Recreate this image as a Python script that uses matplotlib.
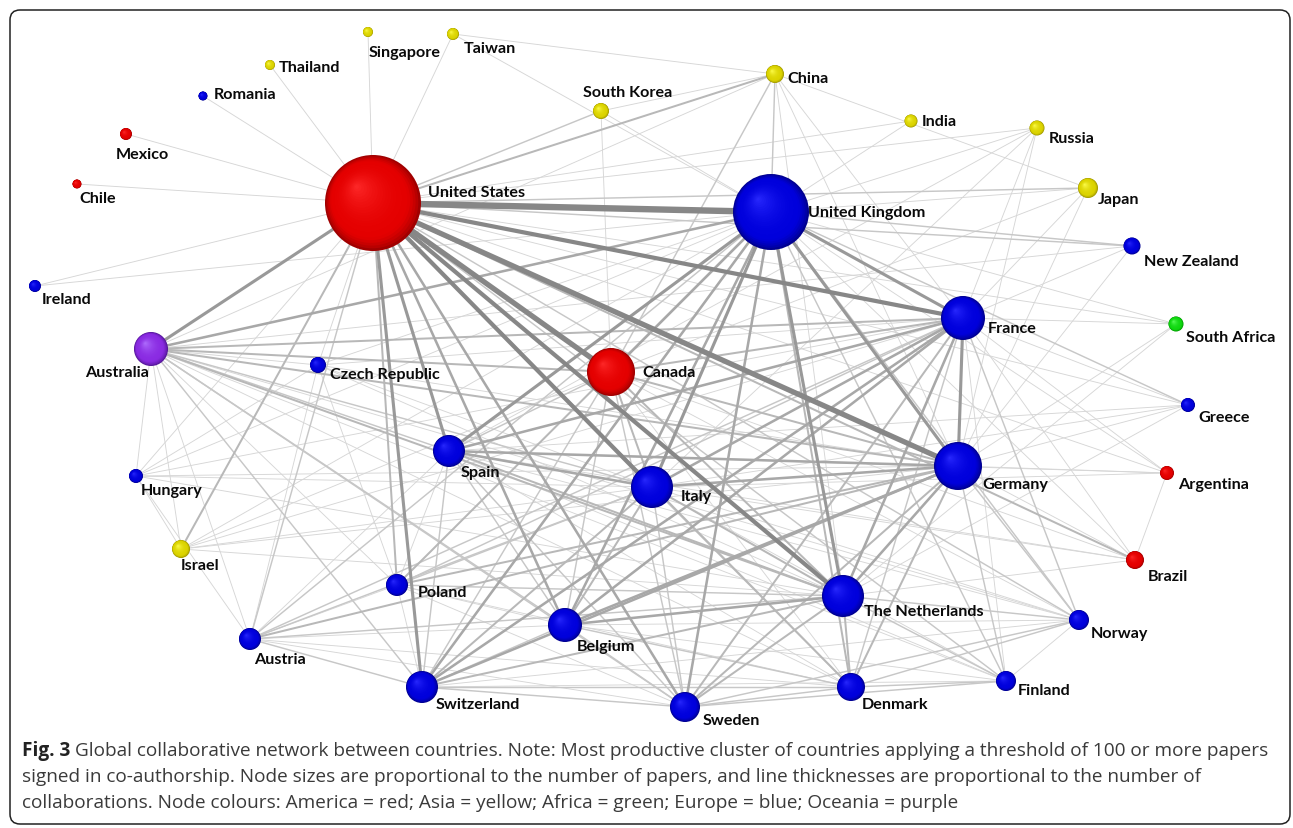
import matplotlib
matplotlib.use("Agg")
import matplotlib.pyplot as plt
from matplotlib.patches import Circle, FancyBboxPatch
from matplotlib.collections import LineCollection
import numpy as np

# ---------------- data ----------------
countries = ["United States", "United Kingdom", "Canada", "France", "Germany", "Italy",
             "The Netherlands", "Spain", "Belgium", "Switzerland", "Sweden", "Denmark",
             "Poland", "Austria", "Finland", "Norway", "Brazil", "Argentina", "Greece",
             "South Africa", "New Zealand", "Japan", "Russia", "India", "China",
             "South Korea", "Taiwan", "Singapore", "Thailand", "Romania", "Mexico",
             "Chile", "Ireland", "Australia", "Czech Republic", "Hungary", "Israel"]

continent = ["America", "Europe", "America", "Europe", "Europe", "Europe",
             "Europe", "Europe", "Europe", "Europe", "Europe", "Europe",
             "Europe", "Europe", "Europe", "Europe", "America", "America", "Europe",
             "Africa", "Europe", "Asia", "Asia", "Asia", "Asia",
             "Asia", "Asia", "Asia", "Asia", "Europe", "America",
             "America", "Europe", "Oceania", "Europe", "Europe", "Asia"]

# relative node size (proportional to number of papers)
node_size = [48, 38, 24, 22, 24, 21, 21, 16, 17, 16, 15, 14,
             11, 11, 10, 10, 9, 7, 7, 7.5, 8.5, 10, 7.5, 6.5, 9,
             8, 6, 5, 5, 4.5, 6, 4.5, 6, 17, 8, 7, 9]

# collaborations (country A, country B, strength)
edges = [
    ("United States", "United Kingdom", 6), ("United States", "Canada", 5),
    ("United States", "France", 4), ("United States", "Germany", 5),
    ("United States", "Italy", 4), ("United States", "The Netherlands", 4),
    ("United States", "Spain", 3), ("United States", "Australia", 3),
    ("United States", "Switzerland", 3), ("United States", "Belgium", 2.5),
    ("United States", "Sweden", 2.5), ("United States", "Denmark", 2),
    ("United States", "Poland", 2), ("United States", "Israel", 2),
    ("United States", "China", 2), ("United States", "South Korea", 1.5),
    ("United States", "Japan", 1.5), ("United States", "Brazil", 2),
    ("United States", "Norway", 1.5), ("United States", "Finland", 1.5),
    ("United States", "Austria", 1.5), ("United States", "Czech Republic", 1),
    ("United States", "Hungary", 1), ("United States", "Greece", 1),
    ("United States", "New Zealand", 1.5), ("United States", "Mexico", 1),
    ("United States", "Chile", 1), ("United States", "Ireland", 1),
    ("United States", "Romania", 1), ("United States", "Thailand", 1),
    ("United States", "Singapore", 1), ("United States", "Taiwan", 1),
    ("United States", "India", 1), ("United States", "Russia", 1),
    ("United States", "Argentina", 1), ("United States", "South Africa", 1),
    ("United Kingdom", "France", 3), ("United Kingdom", "Germany", 3),
    ("United Kingdom", "Italy", 3), ("United Kingdom", "The Netherlands", 3),
    ("United Kingdom", "Spain", 3), ("United Kingdom", "Belgium", 2.5),
    ("United Kingdom", "Switzerland", 2.5), ("United Kingdom", "Sweden", 2.5),
    ("United Kingdom", "Denmark", 2), ("United Kingdom", "Canada", 2.5),
    ("United Kingdom", "Australia", 2.5), ("United Kingdom", "Poland", 2),
    ("United Kingdom", "Norway", 1.5), ("United Kingdom", "Finland", 1.5),
    ("United Kingdom", "Austria", 1.5), ("United Kingdom", "Greece", 1.5),
    ("United Kingdom", "New Zealand", 1.5), ("United Kingdom", "Ireland", 1),
    ("United Kingdom", "China", 1.5), ("United Kingdom", "Japan", 1),
    ("United Kingdom", "Russia", 1), ("United Kingdom", "India", 1),
    ("United Kingdom", "South Africa", 1), ("United Kingdom", "Brazil", 1),
    ("United Kingdom", "Israel", 1), ("United Kingdom", "South Korea", 1),
    ("United Kingdom", "Czech Republic", 1), ("United Kingdom", "Hungary", 1),
    ("United Kingdom", "Argentina", 1), ("United Kingdom", "Taiwan", 1),
    ("France", "Germany", 3), ("France", "Italy", 2.5), ("France", "Spain", 2.5),
    ("France", "Belgium", 2.5), ("France", "Switzerland", 2.5),
    ("France", "The Netherlands", 2.5), ("France", "Canada", 2),
    ("France", "Sweden", 2), ("France", "Denmark", 1.5), ("France", "Poland", 1.5),
    ("France", "Australia", 2), ("France", "Austria", 1.5), ("France", "Norway", 1.5),
    ("France", "Finland", 1), ("France", "Brazil", 1), ("France", "Greece", 1),
    ("France", "Japan", 1), ("France", "Russia", 1), ("France", "China", 1),
    ("France", "Israel", 1), ("France", "Czech Republic", 1), ("France", "Hungary", 1),
    ("France", "South Africa", 1), ("France", "Argentina", 1), ("France", "New Zealand", 1),
    ("Germany", "Italy", 2.5), ("Germany", "The Netherlands", 2.5),
    ("Germany", "Spain", 2.5), ("Germany", "Belgium", 2.5),
    ("Germany", "Switzerland", 2.5), ("Germany", "Sweden", 2),
    ("Germany", "Denmark", 2), ("Germany", "Austria", 2), ("Germany", "Poland", 2),
    ("Germany", "Canada", 2), ("Germany", "Australia", 2), ("Germany", "Norway", 1.5),
    ("Germany", "Finland", 1.5), ("Germany", "Brazil", 1), ("Germany", "Greece", 1),
    ("Germany", "Czech Republic", 1), ("Germany", "Hungary", 1), ("Germany", "Israel", 1),
    ("Germany", "China", 1), ("Germany", "Japan", 1), ("Germany", "Russia", 1),
    ("Germany", "South Africa", 1), ("Germany", "Argentina", 1), ("Germany", "New Zealand", 1),
    ("Italy", "Spain", 2.5), ("Italy", "The Netherlands", 2), ("Italy", "Belgium", 2),
    ("Italy", "Switzerland", 2), ("Italy", "Sweden", 1.5), ("Italy", "Denmark", 1.5),
    ("Italy", "Canada", 2), ("Italy", "Australia", 1.5), ("Italy", "Poland", 1.5),
    ("Italy", "Austria", 1.5), ("Italy", "Norway", 1), ("Italy", "Finland", 1),
    ("Italy", "Greece", 1), ("Italy", "Brazil", 1), ("Italy", "Israel", 1),
    ("Italy", "Hungary", 1), ("Italy", "Czech Republic", 1), ("Italy", "Argentina", 1),
    ("Italy", "Russia", 1),
    ("The Netherlands", "Belgium", 2.5), ("The Netherlands", "Spain", 2),
    ("The Netherlands", "Switzerland", 2), ("The Netherlands", "Sweden", 2),
    ("The Netherlands", "Denmark", 2), ("The Netherlands", "Canada", 2),
    ("The Netherlands", "Australia", 2), ("The Netherlands", "Norway", 1.5),
    ("The Netherlands", "Finland", 1.5), ("The Netherlands", "Poland", 1.5),
    ("The Netherlands", "Austria", 1.5), ("The Netherlands", "Brazil", 1),
    ("The Netherlands", "Greece", 1), ("The Netherlands", "Israel", 1),
    ("The Netherlands", "Czech Republic", 1), ("The Netherlands", "Hungary", 1),
    ("The Netherlands", "South Africa", 1), ("The Netherlands", "China", 1),
    ("Spain", "Belgium", 1.5), ("Spain", "Switzerland", 1.5), ("Spain", "Sweden", 1.5),
    ("Spain", "Denmark", 1), ("Spain", "Canada", 1.5), ("Spain", "Australia", 1.5),
    ("Spain", "Poland", 1), ("Spain", "Austria", 1), ("Spain", "Brazil", 1),
    ("Spain", "Argentina", 1), ("Spain", "Norway", 1), ("Spain", "Finland", 1),
    ("Spain", "Greece", 1), ("Spain", "Russia", 1),
    ("Canada", "Australia", 2), ("Canada", "Belgium", 1.5), ("Canada", "Switzerland", 1.5),
    ("Canada", "Sweden", 1.5), ("Canada", "Denmark", 1), ("Canada", "China", 1.5),
    ("Canada", "Brazil", 1), ("Canada", "Japan", 1), ("Canada", "Norway", 1),
    ("Canada", "Israel", 1), ("Canada", "Poland", 1), ("Canada", "South Korea", 1),
    ("Australia", "Belgium", 1.5), ("Australia", "Switzerland", 1.5),
    ("Australia", "Sweden", 1.5), ("Australia", "Denmark", 1),
    ("Australia", "New Zealand", 1), ("Australia", "Norway", 1),
    ("Australia", "Finland", 1), ("Australia", "Austria", 1), ("Australia", "Poland", 1),
    ("Australia", "Hungary", 1), ("Australia", "Israel", 1),
    ("Australia", "Czech Republic", 1), ("Australia", "China", 1),
    ("Belgium", "Switzerland", 1.5), ("Belgium", "Sweden", 1.5), ("Belgium", "Denmark", 1.5),
    ("Belgium", "Poland", 1), ("Belgium", "Austria", 1), ("Belgium", "Norway", 1),
    ("Belgium", "Finland", 1),
    ("Switzerland", "Sweden", 1.5), ("Switzerland", "Denmark", 1.5),
    ("Switzerland", "Austria", 1.5), ("Switzerland", "Poland", 1),
    ("Switzerland", "Norway", 1), ("Switzerland", "Finland", 1),
    ("Sweden", "Denmark", 1.5), ("Sweden", "Norway", 1.5), ("Sweden", "Finland", 1.5),
    ("Sweden", "Poland", 1), ("Sweden", "Austria", 1),
    ("Denmark", "Norway", 1.5), ("Denmark", "Finland", 1.5), ("Denmark", "Poland", 1),
    ("Denmark", "Austria", 1),
    ("Norway", "Finland", 1), ("Poland", "Austria", 1), ("Poland", "Czech Republic", 1),
    ("Austria", "Hungary", 1), ("Czech Republic", "Hungary", 1),
    ("Czech Republic", "Austria", 1), ("Brazil", "Argentina", 1),
    ("Japan", "China", 1), ("China", "South Korea", 1), ("China", "Taiwan", 1),
    ("Israel", "Hungary", 1),
]

# ---------------- layout (pixel coordinates of the drawing) ----------------
node_x = [373, 771, 611, 963, 958, 652, 843, 449, 565, 422, 685, 851,
          397, 250, 1006, 1079, 1135, 1167, 1188, 1176, 1132, 1088, 1037, 911, 775,
          601, 453, 368, 270, 203, 126, 77, 35, 151, 318, 136, 181]
node_y = [204, 213, 373, 319, 467, 488, 597, 452, 626, 688, 708, 688,
          586, 640, 682, 621, 561, 474, 406, 325, 247, 189, 129, 122, 75,
          112, 35, 33, 66, 97, 135, 185, 287, 350, 366, 477, 550]
label_x = [428, 808, 642, 988, 982, 681, 864, 461, 577, 436, 703, 862,
           418, 254, 1018, 1091, 1148, 1178, 1198, 1186, 1144, 1098, 1049, 922, 787,
           583, 464, 369, 279, 214, 116, 79, 42, 85, 330, 141, 181]
label_y = [193, 213, 373, 329, 485, 497, 612, 473, 647, 705, 721, 705,
           593, 660, 691, 634, 577, 485, 418, 338, 262, 200, 139, 122, 79,
           93, 49, 53, 68, 95, 155, 199, 300, 373, 375, 491, 566]

palette = {
    "America": ("#a00000", "#e40000", "#ff2a2a"),
    "Europe": ("#000090", "#0000dc", "#2a2aff"),
    "Asia": ("#a09800", "#dcd400", "#ffff50"),
    "Africa": ("#009a00", "#10d810", "#60ff60"),
    "Oceania": ("#55169a", "#8a2be2", "#b070ff"),
}

W, H = 1293, 829
fig = plt.figure(figsize=(W / 100, H / 100), dpi=100)
ax = fig.add_axes([0, 0, 1, 1])
ax.set_xlim(0, W)
ax.set_ylim(H, 0)
ax.axis("off")

# frame
frame = FancyBboxPatch((10, 11), 1280, 814, boxstyle="round,pad=0,rounding_size=10",
                       fill=False, ec="#222222", lw=1.1, zorder=1)
ax.add_patch(frame)

idx = {c: i for i, c in enumerate(countries)}

# edges: thin ones first
order = sorted(edges, key=lambda e: e[2])
segs, lws, cols = [], [], []
for a, b, w in order:
    i, j = idx[a], idx[b]
    segs.append([(node_x[i], node_y[i]), (node_x[j], node_y[j])])
    lws.append(0.72 * (0.9 + (w - 1) * 1.1))
    g = max(0.53, 0.84 - 0.12 * (w - 1))
    cols.append((g, g, g))
lc = LineCollection(segs, linewidths=lws, colors=cols, zorder=2, capstyle="butt")
ax.add_collection(lc)


def hex2rgb(h):
    h = h.lstrip("#")
    return np.array([int(h[k:k + 2], 16) / 255 for k in (0, 2, 4)])


def sphere(x, y, r, cont):
    dark, mid, bright = (hex2rgb(c) for c in palette[cont])
    n = 24
    for k in range(n):
        t = k / n
        rr = r * (1 - t)
        cx = x - 0.35 * r * t
        cy = y - 0.35 * r * t
        if t < 0.18:
            c = dark + (mid - dark) * (t / 0.18) ** 0.7
        else:
            c = mid + (bright - mid) * ((t - 0.18) / 0.82) ** 2.0
        ax.add_patch(Circle((cx, cy), rr, fc=np.clip(c, 0, 1), ec="none", zorder=3 + k * 0.001))


for i, c in enumerate(countries):
    sphere(node_x[i], node_y[i], node_size[i], continent[i])

for i, c in enumerate(countries):
    ax.text(label_x[i], label_y[i], c, ha="left", va="center", fontsize=11.6,
            fontweight="bold", family="Lato", color="#0a0a0a", zorder=5)

# caption
cap_lines = [
    "Global collaborative network between countries. Note: Most productive cluster of countries applying a threshold of 100 or more papers",
    "signed in co-authorship. Node sizes are proportional to the number of papers, and line thicknesses are proportional to the number of",
    "collaborations. Node colours: America = red; Asia = yellow; Africa = green; Europe = blue; Oceania = purple",
]
fig.canvas.draw()
r = fig.canvas.get_renderer()
fs = 12.0
bold = ax.text(22, 751, "Fig. 3", fontsize=fs, fontweight="bold", family="Open Sans",
               va="center", ha="left", color="#222222")
t1 = ax.text(0, 751, cap_lines[0], fontsize=fs, family="Open Sans", va="center", ha="left",
             color="#3a3a3a")
bw = bold.get_window_extent(r).width
tw = t1.get_window_extent(r).width
target = 1263 - 22
scale = target / (bw + 6 + tw)
fs2 = fs * scale
bold.set_fontsize(fs2)
t1.set_fontsize(fs2)
bw = bold.get_window_extent(r).width
t1.set_x(22 + bw + 5)
ax.text(22, 777, cap_lines[1], fontsize=fs2, family="Open Sans", va="center", ha="left",
        color="#3a3a3a")
ax.text(22, 803, cap_lines[2], fontsize=fs2, family="Open Sans", va="center", ha="left",
        color="#3a3a3a")

fig.savefig("out.png", dpi=100, facecolor="white")
